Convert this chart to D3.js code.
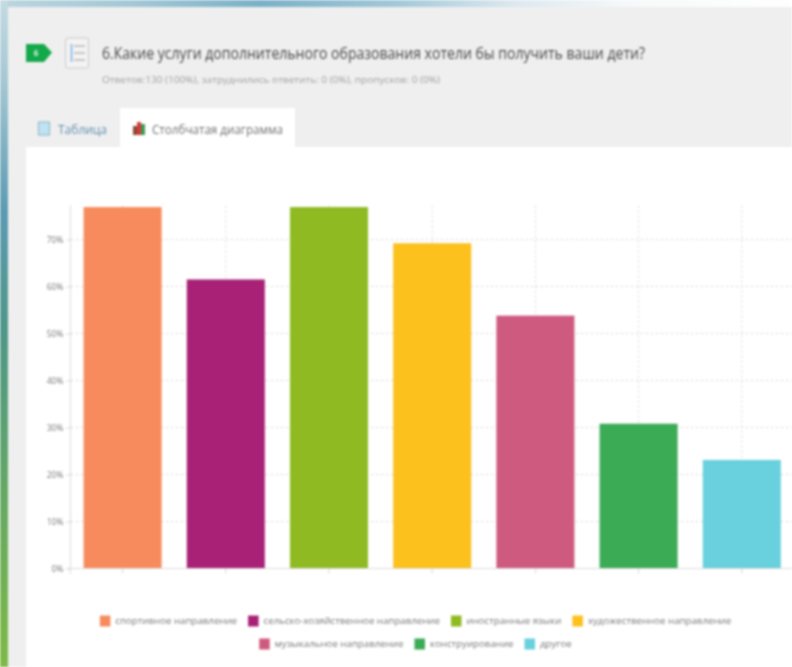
<!DOCTYPE html>
<html>
<head>
<meta charset="utf-8">
<script src="https://cdn.jsdelivr.net/npm/d3@7"></script>
<style>
  html, body { margin: 0; padding: 0; background: #fff; overflow: hidden; }
  svg { display: block; filter: blur(0.9px); font-family: "Open Sans", sans-serif; }
</style>
</head>
<body>
<svg width="792" height="667"></svg>
<script>
const categories = ["спортивное направление", "сельско-хозяйственное направление", "иностранные языки",
  "художественное направление", "музыкальное направление", "конструирование", "другое"];
const values = [76.9, 61.5, 76.9, 69.2, 53.8, 30.8, 23.1];
const colors = ["#f78b5d", "#a82176", "#8fba21", "#fcc11d", "#cf5a80", "#3bab55", "#69d0dd"];
const yTicks = [0, 10, 20, 30, 40, 50, 60, 70];
const legendRows = [[0, 1, 2, 3], [4, 5, 6]];

const svg = d3.select("svg");
const defs = svg.append("defs");

function gradient(id, x2, y2, stops) {
  const g = defs.append("linearGradient").attr("id", id)
    .attr("x1", 0).attr("y1", 0).attr("x2", x2).attr("y2", y2);
  stops.forEach(s => g.append("stop").attr("offset", s[0]).attr("stop-color", s[1]));
}
gradient("side", 0, 1, [[0, "#c6dce3"], [0.13, "#a4c7d3"], [0.32, "#5b9bb2"], [0.5, "#4f9787"], [0.75, "#66a962"], [1, "#7fba45"]]);
gradient("top", 1, 0, [[0, "#bcd6df"], [0.17, "#a3c8d6"], [0.33, "#7bb0c7"], [0.5, "#a2c8d8"], [0.65, "#dde9f0"], [0.8, "#f7fafa"], [1, "#ffffff"]]);

// page frame
svg.append("rect").attr("x", -5).attr("y", -5).attr("width", 802).attr("height", 12).attr("fill", "url(#top)");
svg.append("rect").attr("x", -5).attr("y", -5).attr("width", 13).attr("height", 677).attr("fill", "url(#side)");
svg.append("rect").attr("x", 8).attr("y", 7).attr("width", 790).attr("height", 665).attr("fill", "#efefef");
svg.append("rect").attr("x", 26).attr("y", 147).attr("width", 770).attr("height", 525).attr("fill", "#fff");
svg.append("rect").attr("x", 120).attr("y", 108).attr("width", 175).attr("height", 40).attr("fill", "#fff");

// question tag
svg.append("path").attr("d", "M26,44H44L52,52.5L44,62H26Z").attr("fill", "#13a94a");
svg.append("text").attr("x", 36).attr("y", 55.5).attr("font-size", 8).attr("font-weight", 700)
  .attr("text-anchor", "middle").attr("fill", "#d8f2df").text("6");

// list icon
svg.append("rect").attr("x", 65.5).attr("y", 38).attr("width", 23).attr("height", 30).attr("rx", 2)
  .attr("fill", "#f3f3f3").attr("stroke", "#c8c8c8");
svg.append("line").attr("x1", 71.5).attr("x2", 71.5).attr("y1", 44).attr("y2", 62).attr("stroke", "#7fb3e6").attr("stroke-width", 1.6);
[46, 53, 60].forEach(y => svg.append("line").attr("x1", 74).attr("x2", 85).attr("y1", y).attr("y2", y).attr("stroke", "#999"));

// heading
svg.append("text").attr("x", 102).attr("y", 58.5).attr("font-size", 17).attr("fill", "#4a4a4a")
  .attr("textLength", 543).attr("lengthAdjust", "spacingAndGlyphs")
  .text("6.Какие услуги дополнительного образования хотели бы получить ваши дети?");
svg.append("text").attr("x", 102).attr("y", 82.5).attr("font-size", 9.5).attr("fill", "#a0a0a0")
  .attr("textLength", 338).attr("lengthAdjust", "spacingAndGlyphs")
  .text("Ответов:130 (100%), затруднились ответить: 0 (0%), пропусков: 0 (0%)");

// tabs
svg.append("rect").attr("x", 38.5).attr("y", 122).attr("width", 11).attr("height", 13).attr("fill", "#bfe3f2").attr("stroke", "#8fb3c4");
svg.append("text").attr("x", 58).attr("y", 133.5).attr("font-size", 12).attr("fill", "#5f8fae")
  .attr("textLength", 49).attr("lengthAdjust", "spacingAndGlyphs").text("Таблица");
[[133, 9, "#8a4a35"], [137, 13, "#d33b3b"], [141, 11, "#3f9a55"]].forEach(b =>
  svg.append("rect").attr("x", b[0]).attr("y", 135 - b[1]).attr("width", 4).attr("height", b[1]).attr("fill", b[2]));
svg.append("text").attr("x", 152).attr("y", 133.5).attr("font-size", 12).attr("fill", "#707070")
  .attr("textLength", 131).attr("lengthAdjust", "spacingAndGlyphs").text("Столбчатая диаграмма");

// chart
const x = d3.scaleBand().domain(categories).range([71, 793.4]).paddingInner(0.244).paddingOuter(0.122);
const y = d3.scaleLinear().domain([0, 77]).range([568.5, 206.6]);

const vgrid = svg.append("g").attr("stroke", "#d8d8d8").attr("stroke-dasharray", "2,3");
vgrid.selectAll("line").data(categories).enter().append("line")
  .attr("x1", d => x(d) + x.bandwidth() / 2).attr("x2", d => x(d) + x.bandwidth() / 2)
  .attr("y1", y(77) - 1).attr("y2", y(0));

const hgrid = svg.append("g").attr("stroke", "#d4d4d4").attr("stroke-dasharray", "2,3");
hgrid.selectAll("line").data(yTicks.filter(d => d > 0)).enter().append("line")
  .attr("x1", 71).attr("x2", 792).attr("y1", d => y(d)).attr("y2", d => y(d));

svg.append("g").selectAll("rect").data(values).enter().append("rect")
  .attr("x", (d, i) => x(categories[i]))
  .attr("y", d => y(d))
  .attr("width", x.bandwidth())
  .attr("height", d => y(0) - y(d))
  .attr("fill", (d, i) => colors[i]);

const yAxis = d3.axisLeft(y).tickValues(yTicks).tickFormat(d => d + "%").tickSize(4).tickPadding(3);
const yG = svg.append("g").attr("transform", "translate(70.5,0)").call(yAxis);
yG.select(".domain").attr("d", "M0," + (y(77) - 1) + "V574").attr("stroke", "#dcdcdc");
yG.selectAll(".tick line").attr("stroke", "#d4d4d4");
yG.selectAll("text").attr("font-size", 8.5).attr("fill", "#777").attr("font-family", "Open Sans");

const xAxis = d3.axisBottom(x).tickFormat("").tickSize(5);
const xG = svg.append("g").attr("transform", "translate(0,568.5)").call(xAxis);
xG.select(".domain").attr("d", "M66,0H792").attr("stroke", "#dcdcdc");
xG.selectAll(".tick line").attr("stroke", "#d8d8d8");

// legend, centred rows
const legend = svg.append("g");
legendRows.forEach((row, r) => {
  const rowY = 621 + r * 23;
  const items = row.map(i => {
    const g = legend.append("g");
    g.append("rect").attr("y", -5.5).attr("width", 10.5).attr("height", 11).attr("fill", colors[i]);
    const t = g.append("text").attr("x", 15.5).attr("y", 3.2).attr("font-size", 9.7).attr("fill", "#777").text(categories[i]);
    return { g: g, w: 15.5 + t.node().getComputedTextLength() };
  });
  const total = d3.sum(items, d => d.w) + 11 * (items.length - 1);
  let px = 415.5 - total / 2;
  items.forEach(it => {
    it.g.attr("transform", "translate(" + px + "," + rowY + ")");
    px += it.w + 11;
  });
});
</script>
</body>
</html>
